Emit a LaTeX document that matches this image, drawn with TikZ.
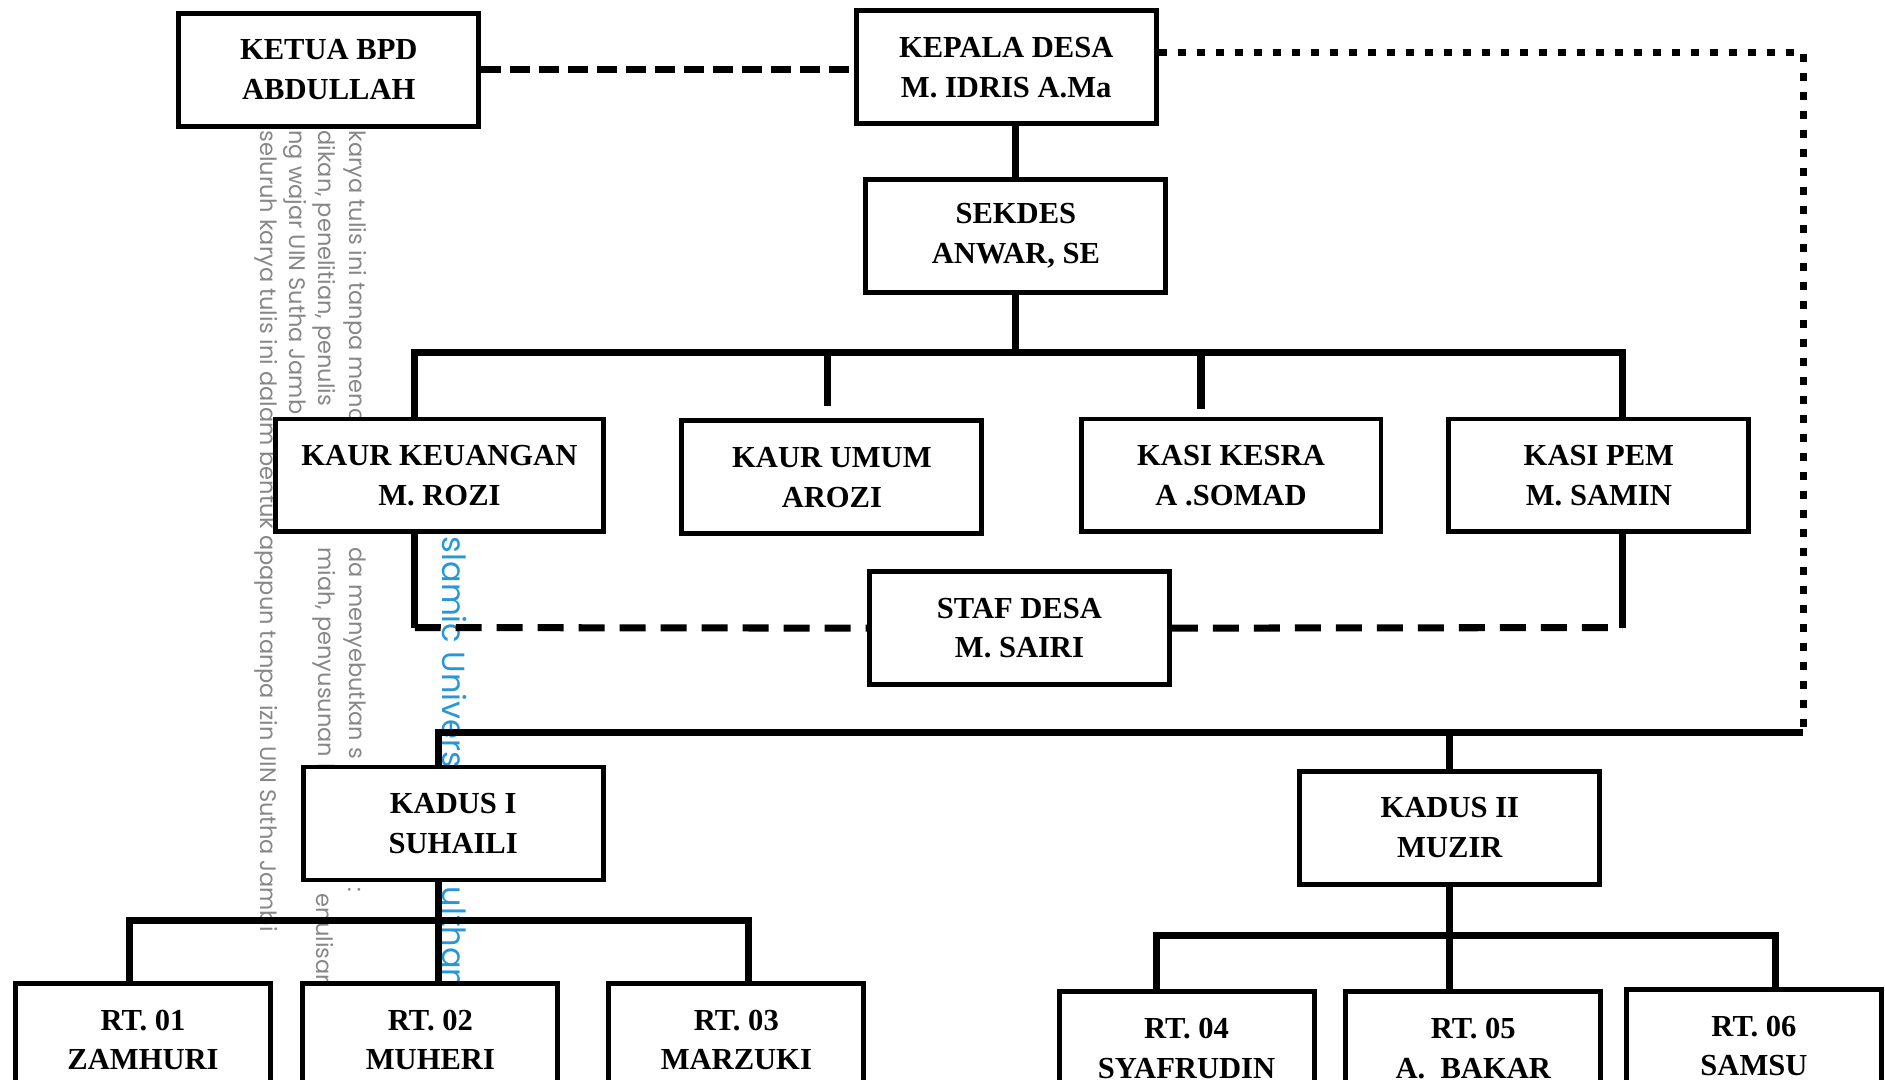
\documentclass[tikz,border=0pt]{standalone}
\usepackage{fontspec}
\setmainfont{Liberation Serif}
\newfontfamily\wmfont{Poppins}
\definecolor{wmgray}{RGB}{135,135,135}
\definecolor{wmblue}{RGB}{40,150,215}

\tikzset{
    jabatan/.style={draw, line width=1.4pt, fill=white, minimum width=3.0cm, minimum height=1.13cm,
                    align=center, inner sep=2pt, font=\bfseries\fontsize{8.7}{11.3}\selectfont},
    rtbox/.style={jabatan, minimum width=2.55cm},
    garis/.style={line width=2pt},
    putus/.style={line width=2pt, dash pattern=on 0.2cm off 0.09cm},
    putusb/.style={line width=2pt, dash pattern=on 0.26cm off 0.15cm},
    titik/.style={line width=2pt, dash pattern=on 0.08cm off 0.11cm},
    wm/.style={rotate=-90, anchor=west, inner sep=0pt, text=wmgray, font=\wmfont\fontsize{6.4}{7}\selectfont},
    wmb/.style={wm, text=wmblue, font=\wmfont\fontsize{9.1}{10}\selectfont}
}

\begin{document}
\begin{tikzpicture}[x=0.012022cm, y=-0.012022cm]
    \useasboundingbox (0,0) rectangle (1568,898);
    \clip (0,0) rectangle (1568,898);

    % watermark
    \node[wm] (wm1a) at (295,108) {karya tulis ini tanpa menc};
    \node[wm] (wm1b) at (295,455) {da menyebutkan s};
    \node[wm] (wm1c) at (295,738) {:};
    \node[wm] (wm2a) at (270,108) {dikan, penelitian, penulis};
    \node[wm] (wm2b) at (270,455) {miah, penyusunan l};
    \node[wm] (wm2c) at (270,743) {enulisan k};
    \node[wm] (wm3a) at (245,108) {ng wajar UIN Sutha Jamb};
    \node[wm] (wm4a) at (221,108) {seluruh karya tulis ini dalam bentuk apapun tanpa izin UIN Sutha Jambi};
    \node[wmb] (wm5a) at (378,446) {slamic Univers};
    \node[wmb] (wm5b) at (378,737) {ulthan};

    \node[jabatan] (bpd) at (273.5,58) {KETUA BPD\\ABDULLAH};
    \node[jabatan] (kades) at (837,56) {KEPALA DESA\\M. IDRIS A.Ma};
    \node[jabatan] (sekdes) at (845,196) {SEKDES\\ANWAR, SE};
    \node[jabatan, minimum width=3.28cm] (kaurkeu) at (365.5,395.5) {KAUR KEUANGAN\\M. ROZI};
    \node[jabatan] (kaurumum) at (692,397) {KAUR UMUM\\AROZI};
    \node[jabatan] (kasikesra) at (1024,395.5) {KASI KESRA\\A .SOMAD};
    \node[jabatan] (kasipem) at (1330,395.5) {KASI PEM\\M. SAMIN};
    \node[jabatan] (staf) at (848,522.5) {STAF DESA\\M. SAIRI};
    \node[jabatan] (kadus1) at (377,685) {KADUS I\\SUHAILI};
    \node[jabatan] (kadus2) at (1206,688.5) {KADUS II\\MUZIR};
    \node[rtbox] (rt1) at (119,865) {RT. 01\\ZAMHURI};
    \node[rtbox] (rt2) at (358,865) {RT. 02\\MUHERI};
    \node[rtbox] (rt3) at (612.5,865) {RT. 03\\MARZUKI};
    \node[rtbox] (rt4) at (987,872) {RT. 04\\SYAFRUDIN};
    \node[rtbox] (rt5) at (1225.5,872) {RT. 05\\A.\ \ BAKAR};
    \node[rtbox] (rt6) at (1459,870) {RT. 06\\SAMSU};

    \coordinate (pojok) at (1500,44);
    \coordinate (ujung) at (1500,609);
    \coordinate (busL) at (345,293);
    \coordinate (busR) at (1350,293);
    \coordinate (stafL) at (345,522);
    \coordinate (stafR) at (1350,522);
    \coordinate (kdL) at (365,609);
    \coordinate (r1) at (108,766);
    \coordinate (r3) at (623,766);
    \coordinate (r4) at (962,778);
    \coordinate (r6) at (1477,778);

    \draw[putus] (bpd.east) -- (bpd.east -| kades.west);
    \draw[titik] (kades.east |- pojok) -- (pojok) -- (ujung);
    \draw[garis] (sekdes.north) -- (sekdes.north |- kades.south);

    \draw[garis] (sekdes.south) -- (sekdes.south |- busL);
    \draw[garis] (busL |- kaurkeu.north) -- (busL) -- (busR) -- (busR |- kasipem.north);
    \draw[garis] (688,293) -- (688,338);
    \draw[garis] (999,293) -- (999,340);

    \draw[garis] (busL |- kaurkeu.south) -- (stafL);
    \draw[putusb] (stafL) -- (staf.west);
    \draw[garis] (busR |- kasipem.south) -- (stafR);
    \draw[putusb] (staf.east) -- (stafR);

    \draw[garis] (kdL |- kadus1.north) -- (kdL) -- (ujung);
    \draw[garis] (kadus2.north) -- (kadus2.north |- kdL);

    \draw[garis] (kdL |- kadus1.south) -- (kdL |- rt2.north);
    \draw[garis] (r1 |- rt1.north) -- (r1) -- (r3) -- (r3 |- rt3.north);

    \draw[garis] (kadus2.south) -- (kadus2.south |- rt5.north);
    \draw[garis] (r4 |- rt4.north) -- (r4) -- (r6) -- (r6 |- rt6.north);
\end{tikzpicture}
\end{document}
